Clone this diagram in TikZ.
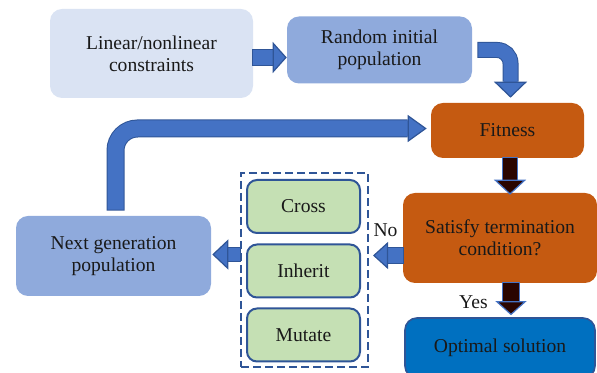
\documentclass[tikz,border=0pt]{standalone}
\usepackage{fontspec}
\setmainfont{Liberation Serif}
\newfontfamily\diagfont{Liberation Serif}
\usetikzlibrary{arrows.meta, calc}
\definecolor{paleblue}{HTML}{DAE3F3}
\definecolor{midblue}{HTML}{8FAADC}
\definecolor{arrowblue}{HTML}{4472C4}
\definecolor{edgeblue}{HTML}{2F5597}
\definecolor{rust}{HTML}{C55A11}
\definecolor{deepblue}{HTML}{0070C0}
\definecolor{palegreen}{HTML}{C5E0B4}
\definecolor{darkbrown}{HTML}{2A0500}

\begin{document}
\begin{tikzpicture}[x=0.75pt, y=-0.75pt,
    every node/.style={font=\diagfont\fontsize{14.7}{16.5}\selectfont, text=black!90, align=center, inner sep=0pt},
    box/.style={rounded corners=9pt, minimum width=#1},
    opbox/.style={rounded corners=7.5pt, fill=palegreen, draw=edgeblue, line width=1.5pt,
        minimum width=84.75pt, minimum height=39.75pt},
    arrowbody/.style n args={5}{draw=#4, line width=#1,
        preaction={draw=#5, line width=#1+1.5pt, -, shorten >=#3, shorten <=-0.75pt},
        -{Triangle[length=#3, width=#2, fill=#4, color=#5, line width=0.9pt]}},
    bluearrow/.style n args={3}{arrowbody={#1}{#2}{#3}{arrowblue}{edgeblue}},
    darkarrow/.style n args={3}{arrowbody={#1}{#2}{#3}{darkbrown}{arrowblue}}]
    \useasboundingbox (0,0) rectangle (597,373);
    \clip (0,0) rectangle (597,373);

    % boxes
    \node[box=152.25pt, minimum height=66.75pt, fill=paleblue] (cons) at (151.5,53.5) {Linear/nonlinear\\constraints};
    \node[box=138.75pt, minimum height=50.25pt, fill=midblue] (init) at (379.5,50) {Random initial\\population};
    \node[box=114.75pt, minimum height=41.25pt, fill=rust] (fit) at (507.5,130.5) {Fitness};
    \node[box=145.5pt, minimum height=67.5pt, fill=rust] (sat) at (500,238) {Satisfy termination\\condition?};
    \node[box=142.5pt, minimum height=45pt, fill=deepblue, draw=edgeblue, line width=1.2pt] (opt) at (500,348) {Optimal solution};
    \node[box=146.25pt, minimum height=60pt, fill=midblue] (next) at (113.5,256) {Next generation\\population};

    % operators
    \node[draw=edgeblue, line width=1.5pt, dash pattern=on 6pt off 3pt, minimum width=95.25pt, minimum height=145.5pt] (ops) at (304.5,270) {};
    \node[opbox] (cross) at (303.5,206.5) {Cross};
    \node[opbox] (inherit) at (303.5,271) {Inherit};
    \node[opbox] (mutate) at (303.5,335) {Mutate};

    % arrows
    \draw[bluearrow={11.25pt}{23.25pt}{10.5pt}] ($(cons.east)+(0,4)$) -- ($(init.west)+(0,7.5)$);
    \draw[bluearrow={10.5pt}{24.75pt}{12pt}, rounded corners=10pt] ($(init.east)+(6,0)$) -| ($(fit.north)+(3,-5)$);
    \draw[darkarrow={10.5pt}{24pt}{11.25pt}] ($(fit.south)+(2.5,0)$) -- ($(sat.north)+(10,2)$);
    \draw[darkarrow={12pt}{23.25pt}{10.5pt}] ($(sat.south)+(11,0)$) -- ($(opt.north)+(11,-2)$);
    \draw[bluearrow={11.25pt}{20.25pt}{11.25pt}] ($(sat.west)+(0,17.5)$) -- ($(ops.east)+(4,-14.5)$);
    \draw[bluearrow={9.75pt}{22.5pt}{12pt}] ($(ops.west)+(0,-15.5)$) -- ($(next.east)+(1,-1.5)$);
    \draw[bluearrow={12pt}{20.25pt}{14.25pt}, rounded corners=16.5pt] ($(next.north)+(2,-6)$) |- ($(fit.west)+(-4,-2)$);

    % labels
    \node (no) at (385.5,230) {No};
    \node (yes) at (473.5,302) {Yes};
\end{tikzpicture}
\end{document}
